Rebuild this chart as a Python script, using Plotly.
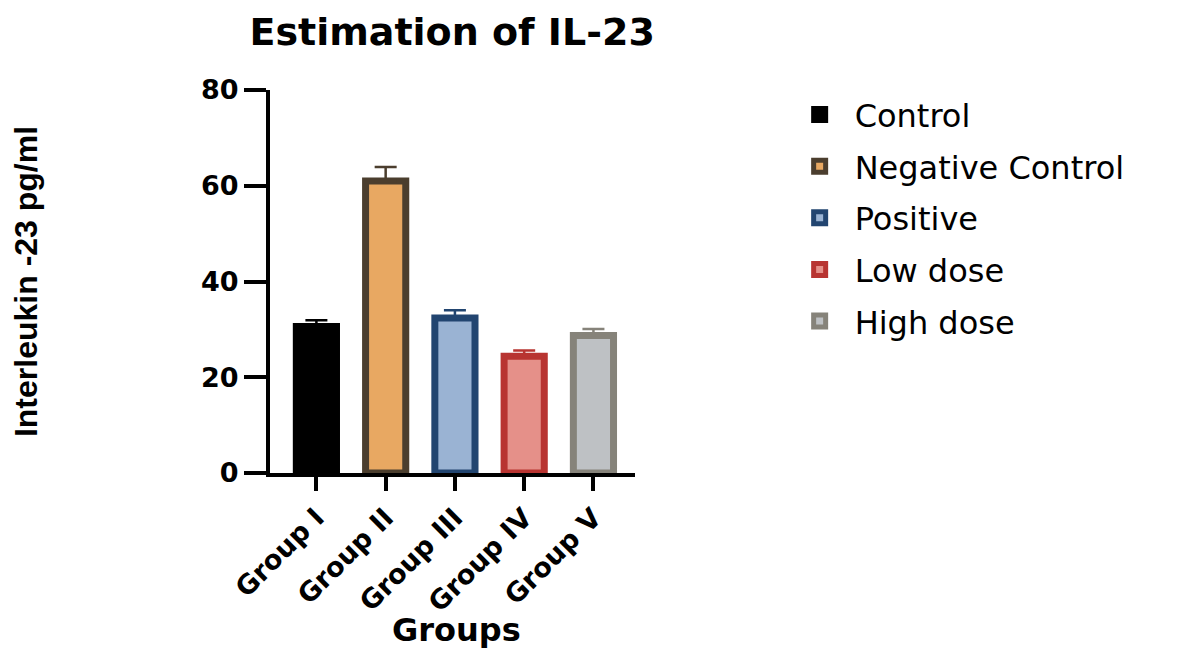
import plotly.graph_objects as go

groups = ["Group I", "Group II", "Group III", "Group IV", "Group V"]
series_names = ["Control", "Negative Control", "Positive", "Low dose", "High dose"]
values = [30.6, 61.0, 32.4, 24.4, 28.7]
errors = [1.3, 2.9, 1.6, 1.2, 1.4]
fill_colors = ["#000000", "#E8A862", "#9AB3D3", "#E59089", "#BEC1C4"]
line_colors = ["#000000", "#4B3E2E", "#224570", "#B83431", "#86837A"]

FONT = "Liberation Sans, Arial, sans-serif"
WIDE = "DejaVu Sans, Liberation Sans, sans-serif"

fig = go.Figure()
for i, g in enumerate(groups):
    fig.add_trace(go.Bar(
        x=[g], y=[values[i]], name=series_names[i],
        legendgroup=series_names[i],
        width=0.58,
        marker=dict(color=fill_colors[i], line=dict(color=line_colors[i], width=7)),
        error_y=dict(type="data", symmetric=False, array=[errors[i]], arrayminus=[0],
                     color=line_colors[i], thickness=2.5, width=11),
    ))

fig.update_layout(
    width=1194, height=649,
    paper_bgcolor="white", plot_bgcolor="white",
    barmode="overlay",
    margin=dict(l=262, r=567, t=82, b=184, autoexpand=False),
    font=dict(family=FONT, color="black"),
    title=dict(text="Estimation of IL-23", x=0.372, xanchor="center",
               y=0.963, yanchor="middle",
               font=dict(size=38, family=WIDE, color="black", weight="bold")),
    showlegend=True,
    legend=dict(x=1.41, xanchor="left", y=1.007, yanchor="top",
                traceorder="grouped", tracegroupgap=7,
                font=dict(size=32, family=WIDE, color="black"),
                bgcolor="rgba(0,0,0,0)", itemwidth=60),
    annotations=[dict(text="Groups", xref="paper", yref="paper", x=0.51, y=-0.41,
                      xanchor="center", yanchor="middle", showarrow=False,
                      font=dict(size=32, family=WIDE, color="black", weight="bold"))],
)

fig.update_xaxes(
    categoryorder="array", categoryarray=groups,
    range=[-0.67, 4.6], automargin=False,
    showline=True, linecolor="black", linewidth=4,
    ticks="outside", ticklen=14, tickwidth=4, tickcolor="black",
    tickangle=-45,
    tickfont=dict(size=27, family=WIDE, color="black", weight="bold"),
    showgrid=False, zeroline=False,
)
fig.update_yaxes(
    range=[0, 80], tickvals=[0, 20, 40, 60, 80], automargin=False,
    showline=True, linecolor="black", linewidth=4,
    ticks="outside", ticklen=22, tickwidth=4, tickcolor="black",
    tickfont=dict(size=27, family=WIDE, color="black", weight="bold"),
    title=dict(text="Interleukin -23 pg/ml", font=dict(size=32, family=FONT, color="black", weight="bold"), standoff=158),
    showgrid=False, zeroline=False,
)

fig.write_html("out.html")
